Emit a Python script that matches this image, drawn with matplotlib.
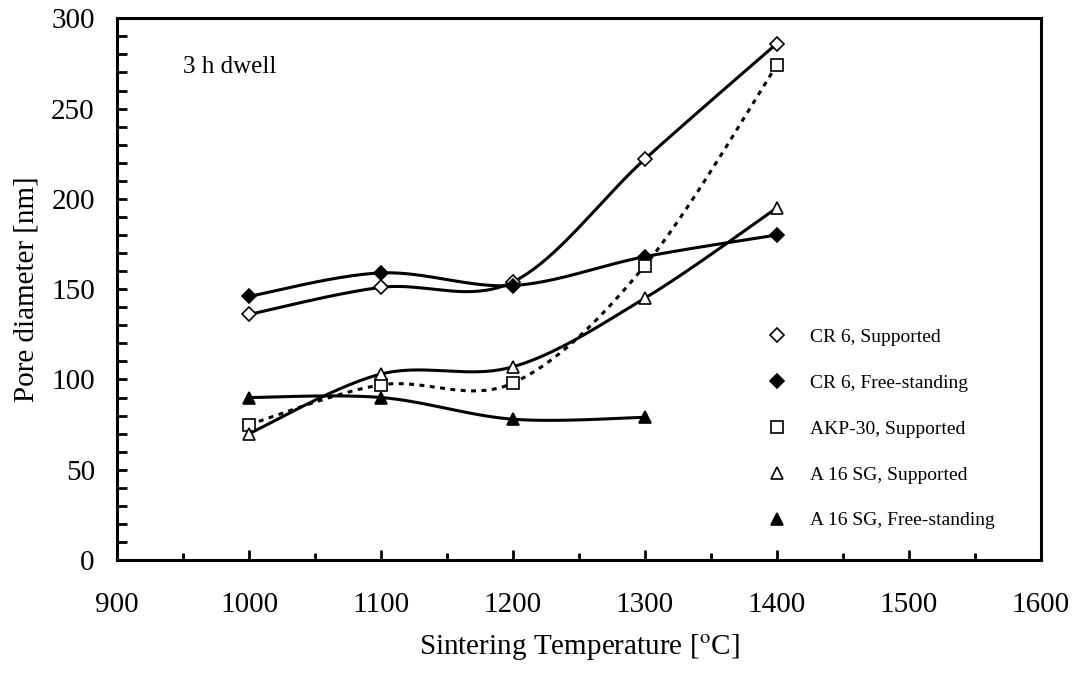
import numpy as np
import matplotlib.pyplot as plt
from matplotlib.lines import Line2D
from matplotlib.ticker import MultipleLocator

plt.rcParams['font.family'] = ['Liberation Serif', 'DejaVu Serif']
plt.rcParams['mathtext.fontset'] = 'stix'

temps = [1000, 1100, 1200, 1300, 1400]
cr6_supported = [136, 151, 154, 222, 286]
cr6_free = [146, 159, 152, 168, 180]
akp30_supported = [75, 97, 98, 163, 274]
a16_supported = [70, 103, 107, 145, 195]
a16_free_temps = [1000, 1100, 1200, 1300]
a16_free = [90, 90, 78, 79]

labels = ["CR 6, Supported", "CR 6, Free-standing", "AKP-30, Supported",
          "A 16 SG, Supported", "A 16 SG, Free-standing"]


def smooth(x, y, n=40):
    """Catmull-Rom curve through the points (like a spreadsheet smoothed line)."""
    x = np.asarray(x, float)
    y = np.asarray(y, float)
    px = np.concatenate([[x[0]], x, [x[-1]]])
    py = np.concatenate([[y[0]], y, [y[-1]]])
    xs, ys = [], []
    t = np.linspace(0, 1, n)
    for i in range(1, len(px) - 2):
        p0, p1, p2, p3 = (np.array([px[j], py[j]]) for j in (i - 1, i, i + 1, i + 2))
        c1 = p1 + (p2 - p0) / 6
        c2 = p2 - (p3 - p1) / 6
        b = ((1 - t) ** 3)[:, None] * p1 + (3 * (1 - t) ** 2 * t)[:, None] * c1 \
            + (3 * (1 - t) * t ** 2)[:, None] * c2 + (t ** 3)[:, None] * p2
        xs.append(b[:, 0])
        ys.append(b[:, 1])
    return np.concatenate(xs), np.concatenate(ys)


fig = plt.figure(figsize=(10.74, 6.78), dpi=100)
ax = fig.add_axes([0.109, 0.174, 0.860, 0.799])

lw = 2.2
series = [
    (temps, cr6_supported, 'D', 'white', '-'),
    (temps, cr6_free, 'D', 'black', '-'),
    (temps, akp30_supported, 's', 'white', (0, (1.6, 1.8))),
    (temps, a16_supported, '^', 'white', '-'),
    (a16_free_temps, a16_free, '^', 'black', '-'),
]

handles = []
for (x, y, m, fc, ls), lab in zip(series, labels):
    sx, sy = smooth(x, y)
    ax.plot(sx, sy, color='black', lw=lw, linestyle=ls, zorder=2)
    ms = 7 if m == 'D' else 8.5
    ax.plot(x, y, linestyle='none', marker=m, markersize=ms,
            markerfacecolor=fc, markeredgecolor='black', markeredgewidth=1.2, zorder=3)
    handles.append(Line2D([], [], linestyle='none', marker=m, markersize=ms,
                          markerfacecolor=fc, markeredgecolor='black',
                          markeredgewidth=1.2, label=lab))

ax.set_xlim(900, 1600)
ax.set_ylim(0, 300)
ax.xaxis.set_major_locator(MultipleLocator(100))
ax.xaxis.set_minor_locator(MultipleLocator(50))
ax.yaxis.set_major_locator(MultipleLocator(50))
ax.yaxis.set_minor_locator(MultipleLocator(10))

ax.tick_params(which='both', direction='in', width=2, top=False, right=False, labelsize=21)
ax.tick_params(axis='y', which='both', length=7, pad=16)
ax.tick_params(axis='x', which='major', length=7, pad=23)
ax.tick_params(axis='x', which='minor', length=5)
for s in ax.spines.values():
    s.set_linewidth(2.2)

ax.set_xlabel("Sintering Temperature [$^{\\mathrm{o}}$C]", fontsize=21, labelpad=10)
ax.set_ylabel("Pore diameter [nm]", fontsize=21, labelpad=8)

ax.text(0.071, 0.91, "3 h dwell", transform=ax.transAxes, fontsize=18, va='center')

ax.legend(handles=handles, loc='upper left', bbox_to_anchor=(0.6846, 0.4595),
          frameon=False, fontsize=14, labelspacing=1.45, handletextpad=1.2,
          handlelength=1.0)

fig.savefig("out.png", dpi=100)
